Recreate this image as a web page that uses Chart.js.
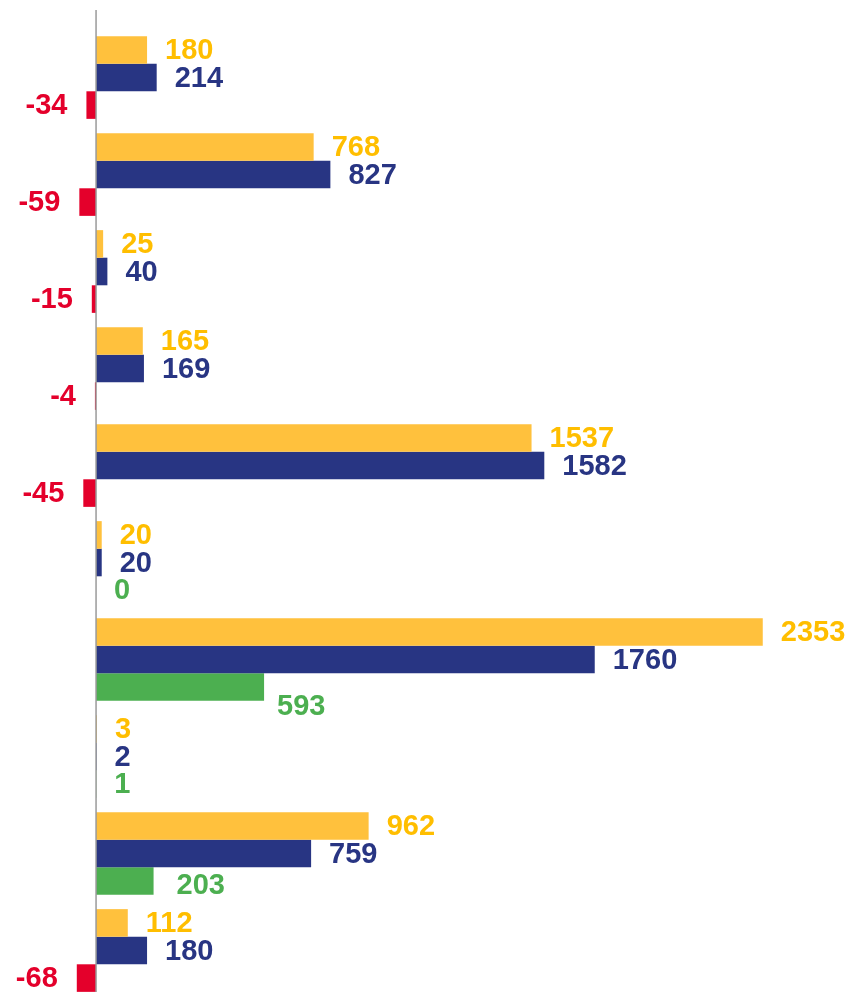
<!DOCTYPE html>
<html>
<head>
<meta charset="utf-8">
<script src="https://cdn.jsdelivr.net/npm/chart.js@4"></script>
<style>
    body { margin: 0; background: #fff; overflow: hidden; }
    .chart-container { width: 854px; height: 992px; overflow: hidden; }
</style>
</head>
<body>
<div class="chart-container">
    <canvas id="barChart" width="854" height="1000"></canvas>
</div>
<script>
    // one row per group, no visible category names in the picture
    var categories = ['1', '2', '3', '4', '5', '6', '7', '8', '9', '10'];
    var yellowValues = [180, 768, 25, 165, 1537, 20, 2353, 3, 962, 112];
    var navyValues = [214, 827, 40, 169, 1582, 20, 1760, 2, 759, 180];
    var diffValues = [-34, -59, -15, -4, -45, 0, 593, 1, 203, -68];

    // small nudges of the difference labels (px), as in the original
    var diffLabelDx = [0, 0, 0, 0, 0, 0, -5, 0, 5, 0];
    var diffLabelDy = [0, 0, 0, 0, 0, 0, 19, 0, 4, 0];

    var YELLOW = '#FFC13D';
    var YELLOW_TEXT = '#FFBE00';
    var NAVY = '#283583';
    var GREEN = '#4CAF50';
    var RED = '#E4002B';

    var diffColors = diffValues.map(function (v) { return v < 0 ? RED : GREEN; });

    // draws value labels next to each bar and the zero line
    var labelPlugin = {
        id: 'valueLabels',
        afterDatasetsDraw: function (chart) {
            var ctx = chart.ctx;
            var xScale = chart.scales.x;
            var zeroX = xScale.getPixelForValue(0);

            ctx.save();
            ctx.strokeStyle = '#9a9a9a';
            ctx.lineWidth = 1.5;
            ctx.beginPath();
            ctx.moveTo(zeroX, 10);
            ctx.lineTo(zeroX, chart.height);
            ctx.stroke();

            ctx.font = 'bold 29px "Liberation Sans", Arial, sans-serif';
            ctx.textBaseline = 'middle';
            chart.data.datasets.forEach(function (ds, di) {
                var meta = chart.getDatasetMeta(di);
                meta.data.forEach(function (bar, i) {
                    var v = ds.data[i];
                    var color = ds.labelColors ? ds.labelColors[i] : ds.labelColor;
                    var dx = ds.dx ? ds.dx[i] : 0;
                    var dy = ds.dy ? ds.dy[i] : 0;
                    ctx.fillStyle = color;
                    if (v < 0) {
                        ctx.textAlign = 'right';
                        ctx.fillText(String(v), bar.x - 19 + dx, bar.y + 1 + dy);
                    } else {
                        ctx.textAlign = 'left';
                        ctx.fillText(String(v), bar.x + 18 + dx, bar.y + 1 + dy);
                    }
                });
            });
            ctx.restore();
        }
    };

    var ctx = document.getElementById('barChart').getContext('2d');
    var chart = new Chart(ctx, {
        type: 'bar',
        data: {
            labels: categories,
            datasets: [
                {
                    data: yellowValues,
                    backgroundColor: YELLOW,
                    labelColor: YELLOW_TEXT
                },
                {
                    data: navyValues,
                    backgroundColor: NAVY,
                    labelColor: NAVY
                },
                {
                    data: diffValues,
                    backgroundColor: diffColors,
                    labelColors: diffColors,
                    dx: diffLabelDx,
                    dy: diffLabelDy
                }
            ]
        },
        options: {
            indexAxis: 'y',
            responsive: false,
            animation: false,
            layout: { padding: { top: 29, bottom: 1, left: 0, right: 0 } },
            datasets: {
                bar: {
                    categoryPercentage: 0.853,
                    barPercentage: 1,
                    borderWidth: 0
                }
            },
            scales: {
                x: { display: false, min: -339, max: 2675 },
                y: { display: false }
            },
            plugins: {
                legend: { display: false },
                tooltip: { enabled: false }
            }
        },
        plugins: [labelPlugin]
    });
</script>
</body>
</html>
